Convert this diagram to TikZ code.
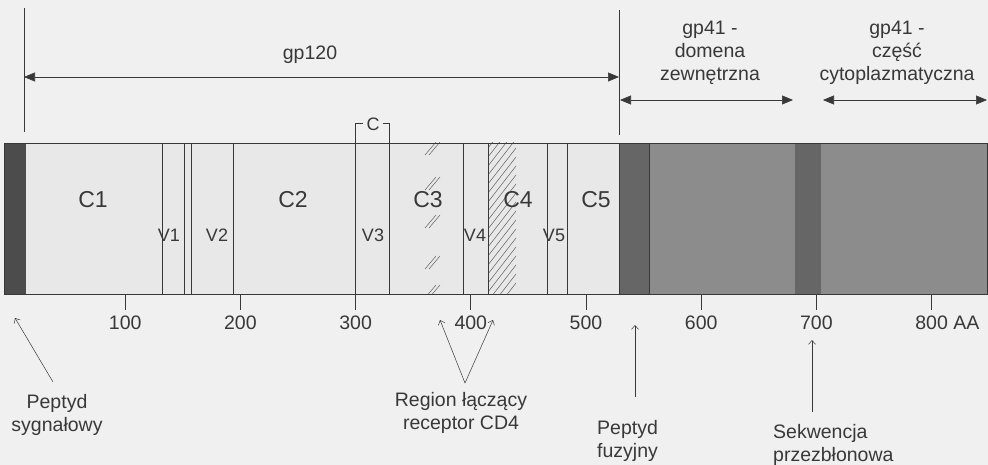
\documentclass[tikz,border=0pt]{standalone}
\usepackage{fontspec}
\setmainfont{Liberation Sans}
\usepackage{xcolor}
\usepackage{tikz}
\usetikzlibrary{arrows.meta, positioning, calc}

\definecolor{paper}{gray}{0.94}
\definecolor{barlight}{gray}{0.91}
\definecolor{gpgray}{gray}{0.55}
\definecolor{gpdark}{gray}{0.40}
\definecolor{sigdark}{gray}{0.30}
\definecolor{ink}{gray}{0.22}

\begin{document}
\begin{tikzpicture}[
    x=1pt, y=-1pt,
    txt/.style={font=\fontsize{19.5}{23}\selectfont, text=ink, inner sep=0pt, align=center},
    region/.style={font=\fontsize{23}{26}\selectfont, text=ink, inner sep=0pt},
    var/.style={font=\fontsize{18}{20}\selectfont, text=ink, inner sep=0pt},
    divider/.style={draw=ink, line width=0.8pt},
    extline/.style={draw=ink, line width=0.6pt},
    dimline/.style={{Triangle[length=11pt,width=9pt]}-{Triangle[length=11pt,width=9pt]}, draw=ink, line width=0.6pt},
    pointer/.style={-{Straight Barb[length=4pt,width=7pt]}, draw=ink, line width=0.5pt},
    hatch/.style={draw=ink!80, line width=0.5pt}
]
    \useasboundingbox (0,0) rectangle (988,465);
    \fill[paper] (0,0) rectangle (988,465);

    % Protein bar
    \fill[barlight] (4,143) rectangle (987,294);
    \fill[sigdark] (4,143) rectangle (26,294);
    \fill[gpgray] (619,143) rectangle (987,294);
    \fill[gpdark] (619,143) rectangle (649,294);
    \fill[gpdark] (795,143) rectangle (821,294);

    % CD4 binding hatching
    \begin{scope}
        \clip (420,143) rectangle (463,294);
        \foreach \y in {148,183,221,262,291}
            \draw[hatch] (425,\y+7) -- ++(11,-13) (429,\y+7) -- ++(11,-13);
    \end{scope}
    \begin{scope}
        \clip (488,143) rectangle (516,294);
        \foreach \k in {0,...,19}
            \draw[hatch] (488,{148+9*\k}) -- ++(28,-36);
    \end{scope}

    \draw[divider] (4,143) rectangle (987,294);
    \foreach \x in {162,184,191,233,463,488,547,567,619,649}
        \draw[divider] (\x,143) -- (\x,294);

    % V3 loop with cysteine bracket
    \draw[divider] (363,123) -- (355.6,123) -- (355.6,310);
    \draw[divider] (383,123) -- (389,123) -- (389,294);
    \node[var] (cys) at (373,124) {C};

    % Scale
    \foreach \n in {100,200,...,800}
        \draw[divider] ({10+1.152*\n},294) -- ++(0,16) node[txt, below=5pt] (t\n) {\n};
    \node[txt, right=5pt of t800] (aa) {AA};

    % Regions
    \node[region] (c1) at (93,200) {C1};
    \node[region] (c2) at (293,200) {C2};
    \node[region] (c3) at (428,200) {C3};
    \node[region] (c4) at (518,200) {C4};
    \node[region] (c5) at (596,200) {C5};
    \node[var] (v1) at (169,235) {V1};
    \node[var] (v2) at (217,235) {V2};
    \node[var] (v3) at (373,235) {V3};
    \node[var] (v4) at (475,235) {V4};
    \node[var] (v5) at (554,235) {V5};

    % Spans
    \draw[extline] (24,8) -- (24,132);
    \draw[extline] (619,10) -- (619,135);
    \coordinate (gpA) at (24,77);
    \coordinate (gpB) at (619,77);
    \coordinate (extA) at (620,100);
    \coordinate (extB) at (793,100);
    \coordinate (cytA) at (823,100);
    \coordinate (cytB) at (987,100);
    \draw[dimline] (gpA) -- (gpB);
    \draw[dimline] (extA) -- (extB);
    \draw[dimline] (cytA) -- (cytB);
    \node[txt, anchor=base] (gp120) at (310,60) {gp120};
    \node[txt, anchor=north] (gpext) at (710,21) {gp41 -\\domena\\zewnętrzna};
    \node[txt, anchor=north] (gpcyt) at (897,21) {gp41 -\\część\\cytoplazmatyczna};

    % Pointers
    \node[txt, anchor=north] (sig) at (57,394) {Peptyd\\sygnałowy};
    \node[txt, anchor=north] (cd4) at (461,392) {Region łączący\\receptor CD4};
    \node[txt, anchor=north west, align=left] (fus) at (597,420) {Peptyd\\fuzyjny};
    \node[txt, anchor=north west, align=left] (tm) at (773,424) {Sekwencja\\przezbłonowa};
    \coordinate (sigtip) at (15,318);
    \coordinate (c3tip) at (440,320);
    \coordinate (c4tip) at (493,320);
    \coordinate (fustip) at (635,325);
    \coordinate (tmtip) at (812,340);
    \draw[pointer] ([shift={(-4,-12)}]sig.north) -- (sigtip);
    \draw[pointer] ([shift={(4,-9)}]cd4.north) -- (c3tip);
    \draw[pointer] ([shift={(4,-9)}]cd4.north) -- (c4tip);
    \draw[pointer] ([shift={(38,-23)}]fus.north west) -- (fustip);
    \draw[pointer] ([shift={(39,-12)}]tm.north west) -- (tmtip);
\end{tikzpicture}
\end{document}
